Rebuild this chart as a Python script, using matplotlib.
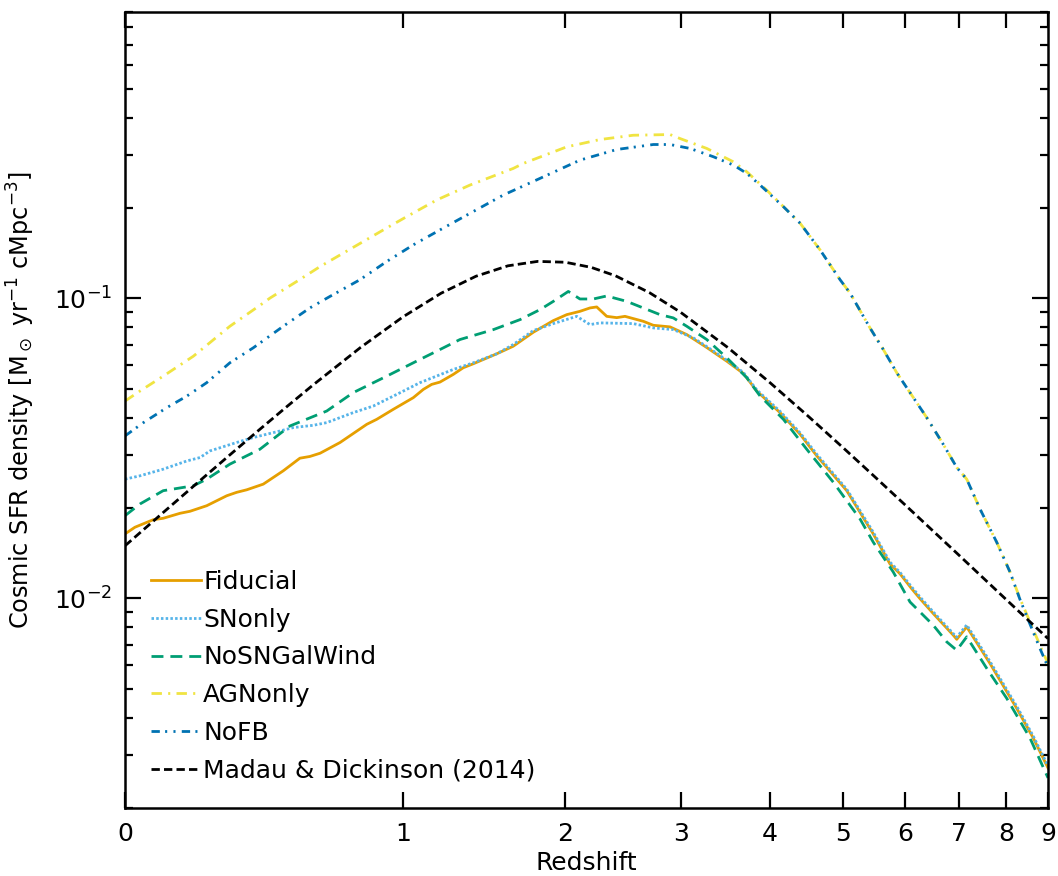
import numpy as np
import matplotlib
matplotlib.use("Agg")
import matplotlib.pyplot as plt
from matplotlib.ticker import NullLocator, FixedLocator

# ---------------- data ----------------
z_fid = [0.0, 0.025, 0.073, 0.100, 0.147, 0.176, 0.226, 0.289, 0.321, 0.355, 0.412, 0.484,
         0.547, 0.586, 0.627, 0.710, 0.828, 0.874, 0.953, 1.053, 1.105, 1.149, 1.194, 1.268,
         1.325, 1.384, 1.528, 1.634, 1.769, 1.911, 2.010, 2.111, 2.190, 2.244, 2.326, 2.410,
         2.481, 2.644, 2.736, 2.895, 3.061, 3.269, 3.487, 3.677, 3.836, 4.125, 4.388, 4.617,
         5.053, 5.467, 5.742, 5.913, 6.118, 6.267, 6.512, 6.897, 6.964, 7.165, 7.654, 8.248,
         8.640, 9.0]
sfr_fid = [0.01639, 0.01725, 0.01828, 0.01848, 0.01920, 0.01950, 0.02035, 0.02197, 0.02255,
           0.02300, 0.02402, 0.02660, 0.02931, 0.02970, 0.03045, 0.03306, 0.03802, 0.03950,
           0.04265, 0.04665, 0.04970, 0.05164, 0.05256, 0.05575, 0.05867, 0.06049, 0.06531,
           0.06921, 0.07704, 0.08425, 0.08820, 0.09047, 0.09286, 0.09357, 0.08706, 0.08620,
           0.08706, 0.08380, 0.08128, 0.08029, 0.07568, 0.06853, 0.06171, 0.05617, 0.04907,
           0.04158, 0.03522, 0.02984, 0.02284, 0.01639, 0.01302, 0.01207, 0.01076, 0.00997,
           0.00889, 0.00753, 0.00730, 0.00803, 0.00606, 0.00430, 0.00342, 0.00272]

z_sn = [0.0, 0.038, 0.100, 0.167, 0.206, 0.236, 0.321, 0.377, 0.472, 0.522, 0.600, 0.654,
        0.767, 0.858, 0.970, 1.087, 1.268, 1.384, 1.528, 1.634, 1.769, 1.911, 2.086, 2.190,
        2.271, 2.553, 2.736, 2.927, 3.128, 3.269, 3.487, 3.677, 3.836, 4.125, 4.388, 4.617,
        5.053, 5.467, 5.742, 5.913, 6.118, 6.267, 6.512, 6.897, 6.964, 7.165, 7.654, 8.248,
        8.640, 9.0]
sfr_sn = [0.02495, 0.02560, 0.02694, 0.02870, 0.02946, 0.03099, 0.03306, 0.03434, 0.03612,
          0.03707, 0.03773, 0.03851, 0.04158, 0.04374, 0.04783, 0.05232, 0.05791, 0.06095,
          0.06531, 0.07012, 0.07805, 0.08234, 0.08706, 0.08171, 0.08279, 0.08234, 0.07967,
          0.07864, 0.07379, 0.06900, 0.06220, 0.05660, 0.04950, 0.04200, 0.03560, 0.03020,
          0.02310, 0.01660, 0.01320, 0.01220, 0.01090, 0.01010, 0.00900, 0.00762, 0.00742,
          0.00815, 0.00615, 0.00437, 0.00347, 0.00276]

z_nosn = [0.0, 0.038, 0.100, 0.186, 0.226, 0.299, 0.400, 0.509, 0.654, 0.767, 0.921, 1.087,
          1.194, 1.306, 1.507, 1.679, 1.816, 1.911, 2.022, 2.111, 2.217, 2.326, 2.496, 2.799,
          2.927, 3.061, 3.269, 3.487, 3.717, 3.876, 4.168, 4.478, 4.855, 5.257, 5.467, 5.798,
          6.088, 6.512, 6.767, 6.964, 7.165, 7.583, 8.022, 8.561, 9.0]
sfr_nosn = [0.01885, 0.02062, 0.02284, 0.02372, 0.02495, 0.02800, 0.03139, 0.03753, 0.04209,
            0.04847, 0.05501, 0.06252, 0.06748, 0.07286, 0.07864, 0.08489, 0.09166, 0.09766,
            0.1054, 0.09947, 0.09947, 0.1018, 0.09766, 0.08820, 0.08602, 0.08067, 0.07286,
            0.06333, 0.05435, 0.04722, 0.03950, 0.03139, 0.02434, 0.01838, 0.01538, 0.01223,
            0.00972, 0.00813, 0.00716, 0.00671, 0.00744, 0.00584, 0.00464, 0.00342, 0.00252]

z_agn = [0.0, 0.038, 0.100, 0.186, 0.299, 0.412, 0.436, 0.535, 0.627, 0.767, 0.905, 1.019,
         1.176, 1.365, 1.634, 1.701, 2.010, 2.271, 2.553, 2.895, 2.993, 3.269, 3.562, 3.717,
         3.957, 4.388, 4.663, 4.953, 5.103, 5.414, 5.631, 5.857, 6.088, 6.390, 6.699, 6.964,
         7.165, 7.440, 7.799, 8.096, 8.326, 8.561, 8.802, 9.0]
sfr_agn = [0.04544, 0.04907, 0.05501, 0.06412, 0.08067, 0.09647, 0.1002, 0.1138, 0.1276,
           0.1478, 0.1690, 0.1871, 0.2126, 0.2385, 0.2709, 0.2815, 0.3197, 0.3382, 0.3495,
           0.3514, 0.3408, 0.3158, 0.2850, 0.2640, 0.2295, 0.1779, 0.1450, 0.1153, 0.1041,
           0.07967, 0.06748, 0.05647, 0.04847, 0.04002, 0.03263, 0.02730, 0.02495, 0.01984,
           0.01538, 0.01223, 0.00997, 0.00834, 0.00697, 0.00606]

z_nofb = [0.0, 0.047, 0.110, 0.167, 0.226, 0.299, 0.377, 0.484, 0.586, 0.668, 0.797, 0.921,
          1.053, 1.194, 1.365, 1.570, 1.816, 2.111, 2.410, 2.736, 2.895, 3.094, 3.340, 3.562,
          3.717, 3.876, 4.168, 4.388, 4.663, 4.953, 5.103, 5.414, 5.631, 5.857, 6.088, 6.390,
          6.699, 6.964, 7.165, 7.440, 7.799, 8.096, 8.326, 8.561, 8.802, 9.0]
sfr_nofb = [0.03477, 0.03851, 0.04320, 0.04722, 0.05232, 0.06095, 0.06837, 0.08067, 0.09286,
            0.1015, 0.1153, 0.1326, 0.1507, 0.1690, 0.1920, 0.2209, 0.2510, 0.2887, 0.3133,
            0.3255, 0.3255, 0.3158, 0.2963, 0.2780, 0.2608, 0.2385, 0.2020, 0.1779, 0.1450,
            0.1153, 0.1041, 0.07967, 0.06748, 0.05647, 0.04847, 0.04002, 0.03263, 0.02730,
            0.02495, 0.01984, 0.01538, 0.01223, 0.00990, 0.00820, 0.00680, 0.00590]

z_md = [0.0, 0.1, 0.2, 0.3, 0.4, 0.5, 0.6, 0.8, 1.0, 1.2, 1.4, 1.6, 1.8, 2.0, 2.2, 2.4, 2.7,
        3.0, 3.5, 4.0, 4.5, 5.0, 5.5, 6.0, 7.0, 8.0, 9.0]
sfr_md = [0.014961, 0.019318, 0.024367, 0.030123, 0.036589, 0.043736, 0.051517, 0.068593,
          0.086652, 0.103946, 0.118429, 0.128325, 0.132737, 0.131859, 0.126767, 0.118823,
          0.104430, 0.089773, 0.068490, 0.052277, 0.040412, 0.031739, 0.025317, 0.020491,
          0.013965, 0.009935, 0.007340]

labels = ["Fiducial", "SNonly", "NoSNGalWind", "AGNonly", "NoFB", "Madau & Dickinson (2014)"]
xtick_vals = [0, 1, 2, 3, 4, 5, 6, 7, 8, 9]
xtick_labels = [str(v) for v in xtick_vals]

# ---------------- figure ----------------
plt.rcParams['font.family'] = ['DejaVu Sans']
plt.rcParams['font.size'] = 18

fig = plt.figure(figsize=(10.58, 8.76), dpi=100)
ax = fig.add_axes([125 / 1058, 1 - 808 / 876, (1048 - 125) / 1058, (808 - 12) / 876])


def fwd(z):
    return np.log10(np.maximum(1.0 + np.asarray(z, dtype=float), 1e-12))


def inv(x):
    return 10.0 ** np.asarray(x, dtype=float) - 1.0


ax.set_xscale('function', functions=(fwd, inv))
ax.set_yscale('log')

lw = 2.0
ax.plot(z_fid, sfr_fid, color='#E69F00', lw=lw, ls='-', label=labels[0])
ax.plot(z_sn, sfr_sn, color='#56B4E9', lw=lw, ls=(0, (0.9, 0.8)), label=labels[1])
ax.plot(z_nosn, sfr_nosn, color='#009E73', lw=lw, ls=(0, (4.3, 2.5)), label=labels[2])
ax.plot(z_agn, sfr_agn, color='#F0E442', lw=lw, ls=(0, (3.75, 2.25, 0.75, 2.25)), label=labels[3])
ax.plot(z_nofb, sfr_nofb, color='#0072B2', lw=lw, ls=(0, (3, 1.9, 0.75, 2.25, 0.75, 2.25)),
        label=labels[4])
ax.plot(z_md, sfr_md, color='black', lw=lw, ls=(0, (3.0, 1.5)), label=labels[5])

ax.set_xlim(0, 9)
ax.set_ylim(0.002, 0.9)

ax.xaxis.set_major_locator(FixedLocator(xtick_vals))
ax.set_xticklabels(xtick_labels)
ax.xaxis.set_minor_locator(NullLocator())

ax.tick_params(which='both', direction='in', top=True, right=True, labelsize=18)
ax.tick_params(which='major', length=11.5, width=1.6)
ax.tick_params(which='minor', length=6, width=1.6)
ax.tick_params(axis='x', which='major', pad=10)
ax.tick_params(axis='y', which='major', pad=9)
for sp in ax.spines.values():
    sp.set_linewidth(1.8)

ax.set_xlabel("Redshift", fontsize=18, labelpad=4)
ax.set_ylabel(r"Cosmic SFR density [M$_\odot$ yr$^{-1}$ cMpc$^{-3}$]", fontsize=17.3, labelpad=6)
ax.yaxis.set_label_coords(-0.095, 0.513)

ax.legend(loc='lower left', frameon=False, fontsize=18, handlelength=2.0,
          handletextpad=0.1, labelspacing=0.55, borderaxespad=0.62)

fig.savefig("out.png", dpi=100)
